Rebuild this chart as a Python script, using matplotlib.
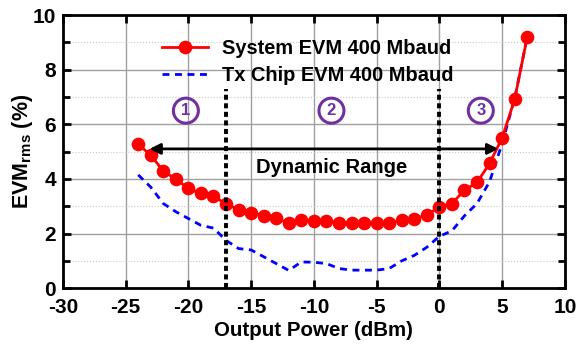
import numpy as np
import matplotlib
matplotlib.use("Agg")
import matplotlib.pyplot as plt
from matplotlib.ticker import MultipleLocator

plt.rcParams['font.family'] = ['Liberation Sans', 'DejaVu Sans']
plt.rcParams['font.weight'] = 'bold'
plt.rcParams['axes.unicode_minus'] = False
plt.rcParams['mathtext.fontset'] = 'custom'
plt.rcParams['mathtext.bf'] = 'Liberation Sans:bold'
plt.rcParams['mathtext.rm'] = 'Liberation Sans:bold'

# output power (dBm)
pout = np.arange(-24, 8)

system_evm = [5.27, 4.87, 4.29, 3.99, 3.65, 3.47, 3.37, 3.08, 2.88, 2.77,
              2.66, 2.57, 2.37, 2.48, 2.47, 2.47, 2.39, 2.37, 2.37, 2.37,
              2.37, 2.49, 2.55, 2.67, 2.98, 3.10, 3.59, 3.87, 4.57, 5.50,
              6.92, 9.20]

tx_chip_evm = [4.15, 3.70, 3.10, 2.80, 2.55, 2.30, 2.20, 1.75, 1.45, 1.40,
               1.15, 0.90, 0.65, 0.96, 0.95, 0.90, 0.72, 0.66, 0.66, 0.66,
               0.72, 1.00, 1.20, 1.50, 1.90, 2.10, 2.65, 3.10, 3.90, 5.30,
               6.95, 9.20]

region_bounds = [-17, 0]
region_labels = ["1", "2", "3"]
region_x = [-20.2, -8.6, 3.3]

fig = plt.figure(figsize=(5.77, 3.51), dpi=100)
ax = fig.add_axes([0.109, 0.179, 0.870, 0.778])

ax.plot(pout, tx_chip_evm, color='blue', lw=2, linestyle=(0, (2.5, 2)),
        label='Tx Chip EVM 400 Mbaud', zorder=3)
ax.plot(pout, system_evm, color='red', lw=2, marker='o', markersize=8.8,
        label='System EVM 400 Mbaud', zorder=4)

for xb in region_bounds:
    ax.plot([xb, xb], [0, 7.3], color='black', lw=2.8,
            linestyle=(0, (1.3, 0.9)), zorder=5)

ax.annotate('', xy=(-23.1, 5.1), xytext=(4.7, 5.1),
            arrowprops=dict(arrowstyle='<|-|>', color='black', lw=2,
                            mutation_scale=16, shrinkA=0, shrinkB=0),
            zorder=6)
ax.text(-8.6, 4.42, 'Dynamic Range', ha='center', va='center',
        fontsize=14.5, fontweight='bold')

for xl, lab in zip(region_x, region_labels):
    ax.text(xl, 6.5, lab, ha='center', va='center', fontsize=12,
            fontweight='bold', color='#7030A0',
            bbox=dict(boxstyle='circle,pad=0.3', fc='none',
                      ec='#7030A0', lw=2.2))

ax.set_xlim(-30, 10)
ax.set_ylim(0, 10)
ax.xaxis.set_major_locator(MultipleLocator(5))
ax.yaxis.set_major_locator(MultipleLocator(2))
ax.yaxis.set_minor_locator(MultipleLocator(1))
ax.grid(True, which='major', color='#a0a0a0', lw=1)
ax.grid(True, which='minor', axis='y', color='#c8c8c8', lw=0.8,
        linestyle=':')
ax.set_axisbelow(True)

ax.tick_params(which='both', direction='in', top=True, right=True,
               labelsize=15, width=2)
ax.tick_params(which='major', length=6)
ax.tick_params(which='minor', length=5)
ax.tick_params(axis='x', pad=7)
ax.tick_params(axis='y', pad=5)
for sp in ax.spines.values():
    sp.set_linewidth(2)

ax.set_xlabel('Output Power (dBm)', fontsize=14.8, fontweight='bold',
              labelpad=3)
ax.set_ylabel(r'EVM$_\mathbf{rms}$ (%)', fontsize=15.5, fontweight='bold',
              labelpad=-2)

handles, labels = ax.get_legend_handles_labels()
ax.legend(handles[::-1], labels[::-1], loc='upper left',
          bbox_to_anchor=(0.17, 0.965), frameon=False, fontsize=14.4,
          handlelength=2.3, handletextpad=0.7, labelspacing=0.42,
          borderpad=0.2)

fig.savefig('out.png', dpi=100)
